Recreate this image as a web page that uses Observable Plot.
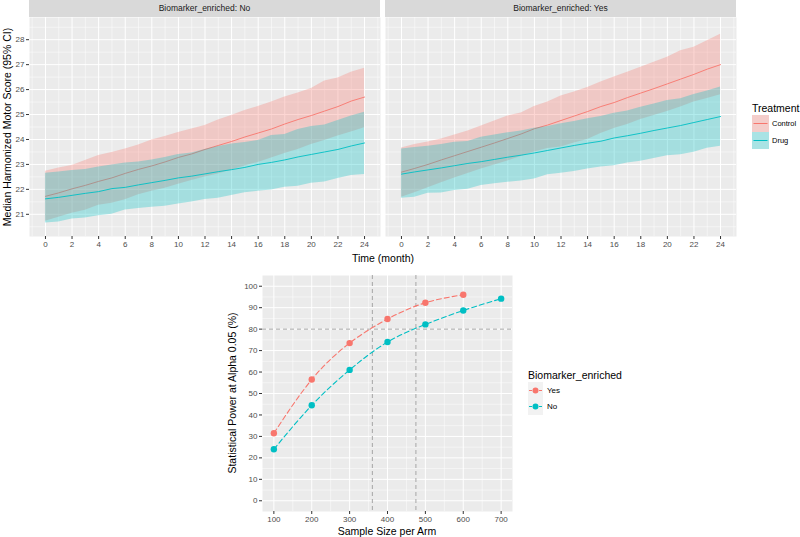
<!DOCTYPE html>
<html><head><meta charset="utf-8">
<script src="https://cdn.jsdelivr.net/npm/d3@7"></script>
<script src="https://cdn.jsdelivr.net/npm/@observablehq/plot@0.6"></script>
<style>
html,body{margin:0;padding:0;background:#fff;}
#root{position:relative;width:800px;height:537px;font-family:"Liberation Sans",Arial,sans-serif;overflow:hidden;}
.strip{position:absolute;background:#d9d9d9;color:#1a1a1a;font-size:8.5px;text-align:center;line-height:17px;height:17px;}
.title{position:absolute;font-size:10.5px;color:#000;white-space:nowrap;}
.rot{transform:translate(-50%,-50%) rotate(-90deg);}
.lab{position:absolute;font-size:7.5px;color:#000;white-space:nowrap;}
</style>
</head><body><div id="root"></div>
<script>
// ---------- data ----------
const months = [0,1,2,3,4,5,6,7,8,9,10,11,12,13,14,15,16,17,18,19,20,21,22,23,24];
const monthTicks = [0,2,4,6,8,10,12,14,16,18,20,22,24];
const scoreTicks = [21,22,23,24,25,26,27,28];

// Biomarker_enriched: No
const noControlMed = [21.72,21.86,22.02,22.16,22.32,22.46,22.64,22.80,22.94,23.10,23.28,23.42,23.60,23.76,23.92,24.10,24.26,24.42,24.62,24.80,24.96,25.14,25.32,25.54,25.70];
const noControlHi  = [22.73,22.86,22.96,23.16,23.36,23.48,23.62,23.78,23.98,24.12,24.28,24.42,24.56,24.78,24.96,25.16,25.32,25.50,25.70,25.86,26.04,26.34,26.46,26.70,26.86];
const noControlLo  = [20.72,20.88,21.04,21.16,21.36,21.44,21.58,21.78,21.92,22.04,22.20,22.36,22.50,22.62,22.78,22.94,23.08,23.26,23.44,23.60,23.80,23.96,24.14,24.30,24.47];
const noDrugMed = [21.62,21.68,21.76,21.84,21.91,22.03,22.08,22.18,22.27,22.36,22.46,22.53,22.62,22.71,22.79,22.88,23.00,23.08,23.18,23.30,23.40,23.50,23.60,23.74,23.86];
const noDrugHi  = [22.65,22.70,22.76,22.80,22.90,22.98,23.06,23.10,23.18,23.28,23.40,23.46,23.60,23.72,23.82,23.88,23.96,24.16,24.20,24.40,24.52,24.58,24.76,24.94,25.09];
const noDrugLo  = [20.65,20.69,20.81,20.85,20.94,21.00,21.17,21.23,21.28,21.32,21.41,21.49,21.59,21.64,21.75,21.86,21.92,21.97,22.08,22.12,22.24,22.30,22.44,22.56,22.60];

// Biomarker_enriched: Yes
const yesControlMed = [22.69,22.84,23.00,23.18,23.35,23.52,23.69,23.86,24.04,24.22,24.43,24.58,24.76,24.94,25.12,25.32,25.48,25.68,25.86,26.04,26.23,26.42,26.61,26.82,27.00];
const yesControlHi  = [23.66,23.80,23.90,24.02,24.18,24.34,24.54,24.74,24.94,25.06,25.32,25.50,25.74,25.90,26.08,26.30,26.50,26.70,26.90,27.10,27.30,27.56,27.70,27.96,28.22];
const yesControlLo  = [21.68,21.86,22.06,22.26,22.46,22.64,22.82,22.98,23.14,23.32,23.50,23.64,23.70,23.86,24.00,24.24,24.44,24.60,24.80,24.96,25.12,25.30,25.50,25.64,25.79];
const yesDrugMed = [22.61,22.70,22.78,22.86,22.95,23.04,23.11,23.20,23.29,23.37,23.46,23.56,23.66,23.76,23.85,23.93,24.06,24.15,24.25,24.36,24.46,24.56,24.68,24.80,24.92];
const yesDrugHi  = [23.62,23.68,23.73,23.80,23.89,23.92,24.09,24.18,24.27,24.34,24.45,24.52,24.63,24.72,24.83,24.92,25.05,25.14,25.29,25.42,25.56,25.63,25.80,25.94,26.10];
const yesDrugLo  = [21.64,21.68,21.84,21.85,21.95,22.00,22.15,22.22,22.28,22.34,22.42,22.59,22.65,22.72,22.82,22.90,22.95,23.06,23.13,23.24,23.35,23.39,23.49,23.65,23.73];

// Power curves
const sampleSizeYes = [100,200,300,400,500,600];
const powerYes      = [31.5,56.5,73.5,84.7,92.3,96.0];
const sampleSizeNo  = [100,200,300,400,500,600,700];
const powerNo       = [24.0,44.5,61.0,74.0,82.2,88.7,94.2];
const sampleTicks = [100,200,300,400,500,600,700];
const powerTicks = [0,10,20,30,40,50,60,70,80,90,100];
const targetPower = [80];
const requiredN = [360,475];

// ---------- helpers ----------
const RED = "#F8766D", CYAN = "#00BFC4";
const root = document.getElementById("root");
function rows(med, lo, hi){ return months.map((t,i)=>({t, med:med[i], lo:lo[i], hi:hi[i]})); }
function place(el, left, top){ el.style.position="absolute"; el.style.left=left+"px"; el.style.top=top+"px"; root.appendChild(el); }
function div(cls, text, css){ const d=document.createElement("div"); d.className=cls; d.textContent=text; Object.assign(d.style, css); root.appendChild(d); return d; }
const baseStyle = {fontFamily:"'Liberation Sans',Arial,sans-serif", fontSize:"8px", background:"transparent", overflow:"visible"};
const minorMonths = [-1,1,3,5,7,9,11,13,15,17,19,21,23,25];
const minorScores = [20.5,21.5,22.5,23.5,24.5,25.5,26.5,27.5,28.5];

function panel(ctrl, drug, showY, width, mLeft){
  const marks = [
    Plot.frame({fill:"#ebebeb", stroke:null}),
    Plot.gridX(minorMonths, {stroke:"#fff", strokeOpacity:1, strokeWidth:0.5}),
    Plot.gridY(minorScores, {stroke:"#fff", strokeOpacity:1, strokeWidth:0.5}),
    Plot.gridX(monthTicks, {stroke:"#fff", strokeOpacity:1, strokeWidth:1}),
    Plot.gridY(scoreTicks, {stroke:"#fff", strokeOpacity:1, strokeWidth:1}),
    Plot.areaY(ctrl, {x:"t", y1:"lo", y2:"hi", fill:RED, fillOpacity:0.3}),
    Plot.lineY(ctrl, {x:"t", y:"med", stroke:RED, strokeWidth:0.9}),
    Plot.areaY(drug, {x:"t", y1:"lo", y2:"hi", fill:CYAN, fillOpacity:0.3}),
    Plot.lineY(drug, {x:"t", y:"med", stroke:CYAN, strokeWidth:0.9}),
    Plot.axisX(monthTicks, {tickSize:3, tickPadding:2, stroke:"#333", fill:"#4d4d4d", label:null, fontSize:8})
  ];
  if (showY) marks.push(Plot.axisY(scoreTicks, {tickSize:3, tickPadding:2, stroke:"#333", fill:"#4d4d4d", label:null, fontSize:8}));
  return Plot.plot({
    width, height:234, marginLeft:mLeft, marginRight:0, marginTop:0, marginBottom:15,
    x:{domain:[-1.2,25.2]},
    y:showY ? {domain:[20.11,28.89]} : {domain:[20.11,28.89], axis:null},
    style:baseStyle, marks
  });
}

// ---------- top panels ----------
place(panel(rows(noControlMed,noControlLo,noControlHi), rows(noDrugMed,noDrugLo,noDrugHi), true, 380, 29), 0, 17);
place(panel(rows(yesControlMed,yesControlLo,yesControlHi), rows(yesDrugMed,yesDrugLo,yesDrugHi), false, 351, 0), 385, 17);
div("strip","Biomarker_enriched: No",{left:"29px",top:"0px",width:"351px"});
div("strip","Biomarker_enriched: Yes",{left:"385px",top:"0px",width:"351px"});
div("title rot","Median Harmonized Motor Score (95% CI)",{left:"7px",top:"127px"});
div("title","Time (month)",{left:"383px",top:"258px",transform:"translate(-50%,-50%)"});

// top legend
div("title","Treatment",{left:"752px",top:"102px"});
function key(left, top, color, withArea, dot, w){
  const ns="http://www.w3.org/2000/svg";
  const s=document.createElementNS(ns,"svg"); s.setAttribute("width",w); s.setAttribute("height",17);
  s.innerHTML = `<rect x="0" y="0" width="${w}" height="17" fill="#f2f2f2"/>` +
    (withArea?`<rect x="0" y="0" width="${w}" height="17" fill="${color}" fill-opacity="0.3"/>`:"") +
    (dot?`<line x1="1" y1="8.5" x2="${w-1}" y2="8.5" stroke="${color}" stroke-width="1" stroke-dasharray="3,2"/><circle cx="${w/2}" cy="8.5" r="3" fill="${color}"/>`
        :`<line x1="1.5" y1="8.5" x2="${w-1.5}" y2="8.5" stroke="${color}" stroke-width="1"/>`);
  s.style.position="absolute"; s.style.left=left+"px"; s.style.top=top+"px"; root.appendChild(s);
}
key(752,115,RED,true,false,17); key(752,132,CYAN,true,false,17);
div("lab","Control",{left:"772px",top:"119px"});
div("lab","Drug",{left:"772px",top:"136px"});

// ---------- bottom power chart ----------
const yesRows = sampleSizeYes.map((n,i)=>({n, p:powerYes[i]}));
const noRows = sampleSizeNo.map((n,i)=>({n, p:powerNo[i]}));
const minorN = [150,250,350,450,550,650];
const minorP = [5,15,25,35,45,55,65,75,85,95];
const bottom = Plot.plot({
  width:272, height:255, marginLeft:22, marginRight:0, marginTop:5, marginBottom:14,
  x:{domain:[70,730]}, y:{domain:[-5,105]},
  style:baseStyle,
  marks:[
    Plot.frame({fill:"#ebebeb", stroke:null}),
    Plot.gridX(minorN, {stroke:"#fff", strokeOpacity:1, strokeWidth:0.5}),
    Plot.gridY(minorP, {stroke:"#fff", strokeOpacity:1, strokeWidth:0.5}),
    Plot.gridX(sampleTicks, {stroke:"#fff", strokeOpacity:1, strokeWidth:1}),
    Plot.gridY(powerTicks, {stroke:"#fff", strokeOpacity:1, strokeWidth:1}),
    Plot.ruleX(requiredN, {stroke:"#a6a6a6", strokeWidth:1, strokeDasharray:"4,3"}),
    Plot.ruleY(targetPower, {stroke:"#a6a6a6", strokeWidth:1, strokeDasharray:"4,3"}),
    Plot.line(yesRows, {x:"n", y:"p", stroke:RED, strokeWidth:1.1, strokeDasharray:"5,3", curve:"natural"}),
    Plot.line(noRows, {x:"n", y:"p", stroke:CYAN, strokeWidth:1.1, strokeDasharray:"5,3", curve:"natural"}),
    Plot.dot(yesRows, {x:"n", y:"p", r:3.2, fill:RED, stroke:null}),
    Plot.dot(noRows, {x:"n", y:"p", r:3.2, fill:CYAN, stroke:null}),
    Plot.axisX(sampleTicks, {tickSize:3, tickPadding:2, stroke:"#333", fill:"#4d4d4d", label:null, fontSize:8}),
    Plot.axisY(powerTicks, {tickSize:3, tickPadding:2, stroke:"#333", fill:"#4d4d4d", label:null, fontSize:8})
  ]
});
place(bottom, 240, 270);
div("title rot","Statistical Power at Alpha 0.05 (%)",{left:"232px",top:"393px"});
div("title","Sample Size per Arm",{left:"387px",top:"531px",transform:"translate(-50%,-50%)"});
div("title","Biomarker_enriched",{left:"528px",top:"369px"});
key(528,382,RED,false,true,15); key(528,398,CYAN,false,true,15);
div("lab","Yes",{left:"547px",top:"386px",fontSize:"8px"});
div("lab","No",{left:"547px",top:"402px",fontSize:"8px"});
</script>
</body></html>
